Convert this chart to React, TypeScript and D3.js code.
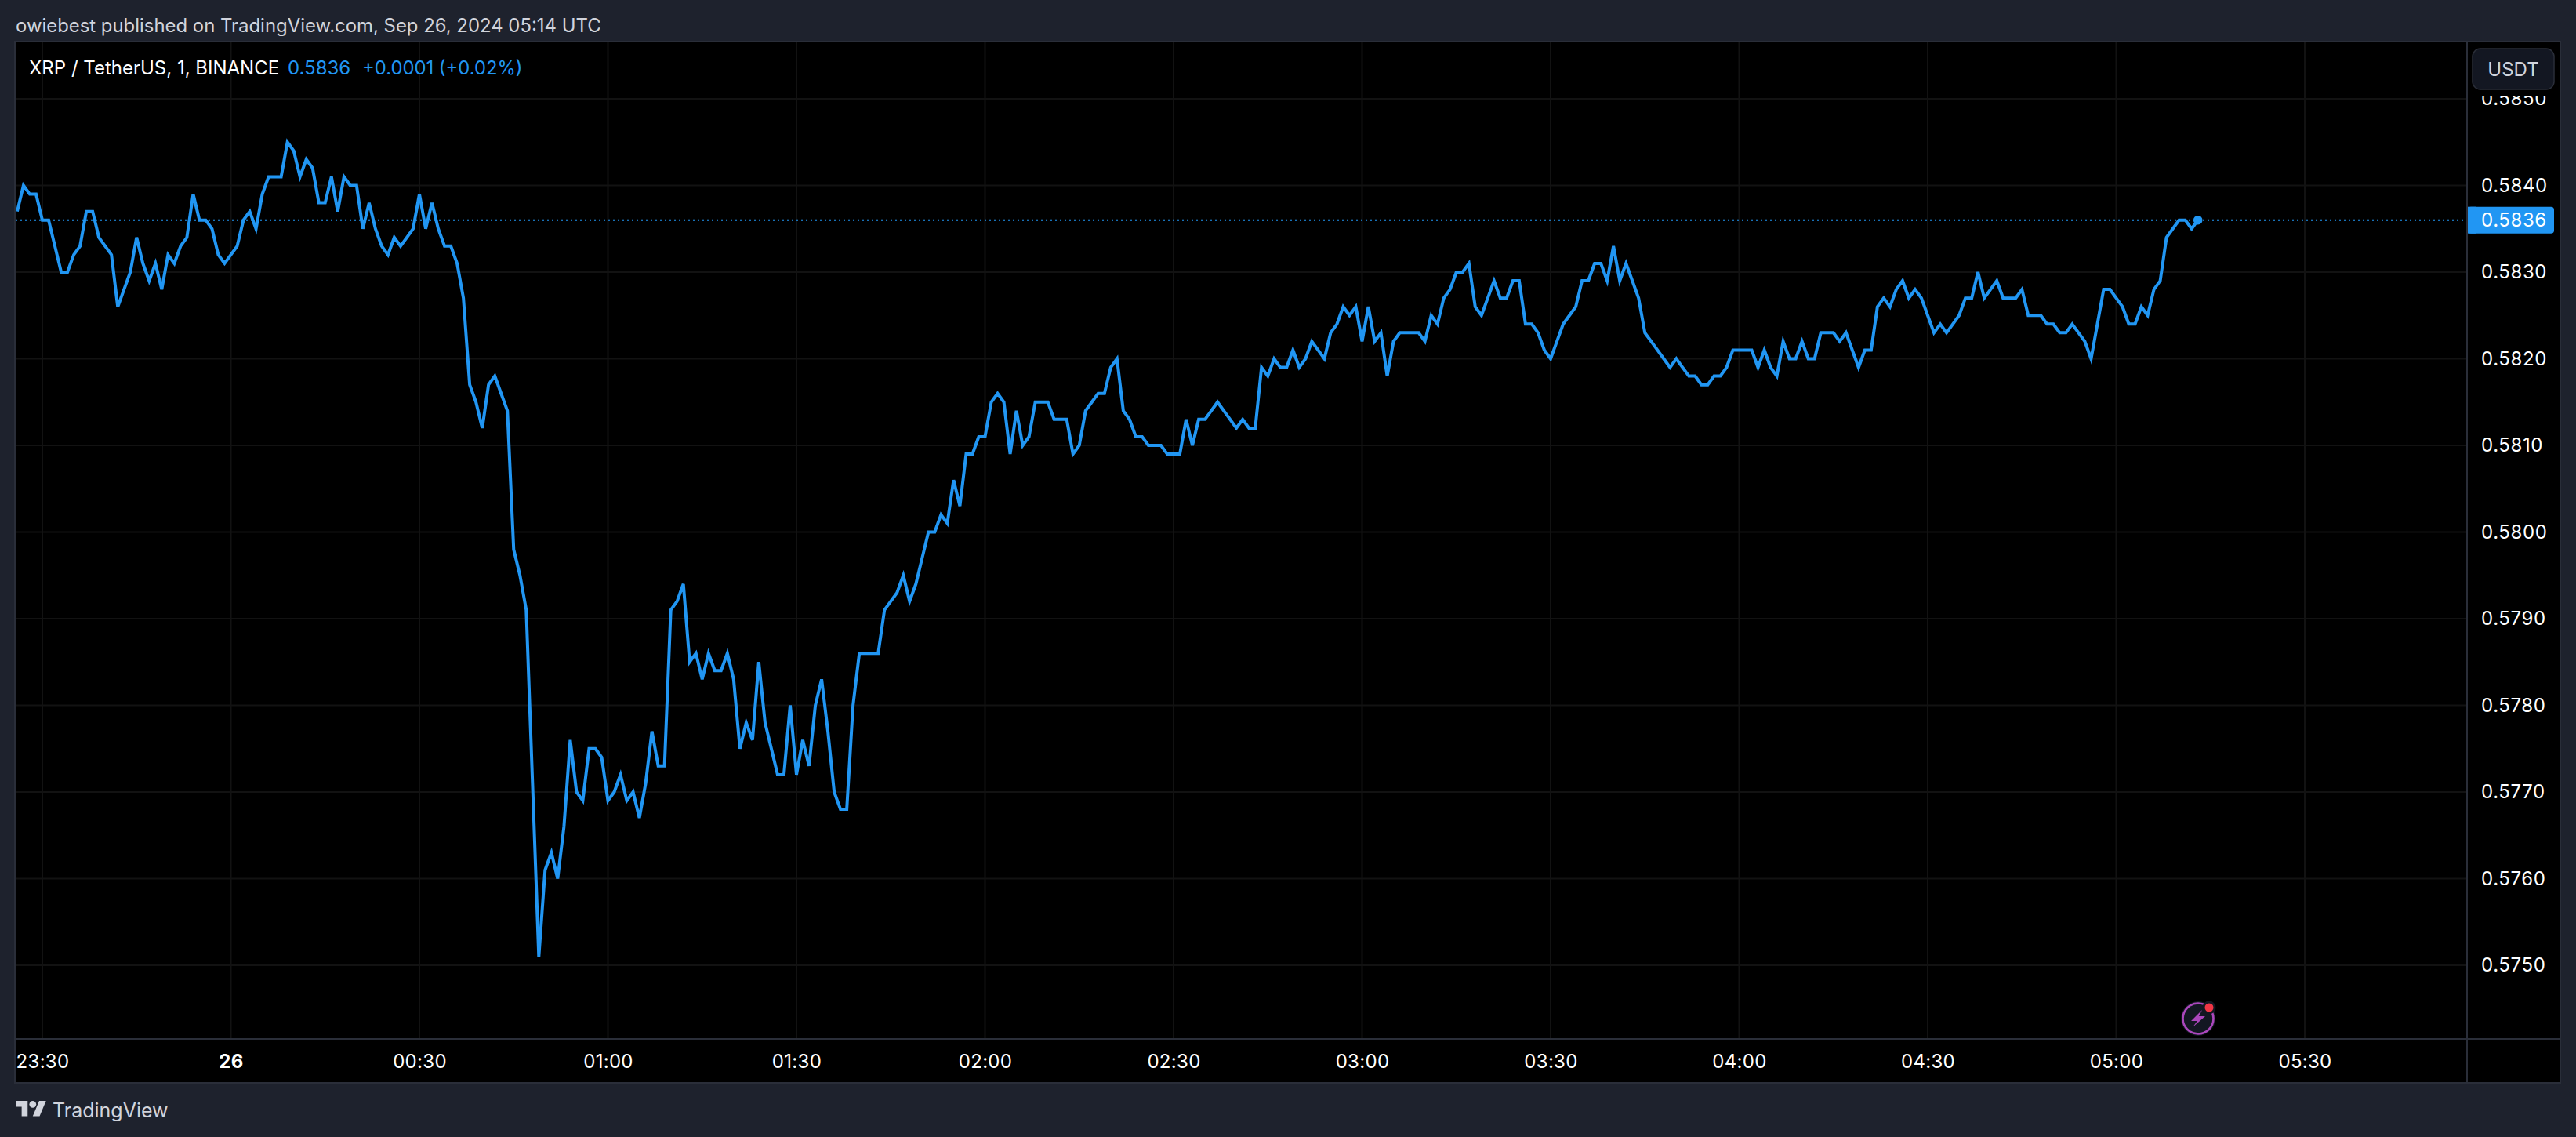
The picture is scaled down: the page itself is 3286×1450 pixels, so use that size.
import { useEffect, useRef } from 'react'
import * as d3 from 'd3'

// XRP/USDT 1 minute closes, from 23:26 on the 25th
const closes = [
  0.5837, 0.584, 0.5839, 0.5839, 0.5836, 0.5836, 0.5833, 0.583, 0.583, 0.5832, 0.5833, 0.5837, 0.5837, 0.5834, 0.5833,
  0.5832, 0.5826, 0.5828, 0.583, 0.5834, 0.5831, 0.5829, 0.5831, 0.5828, 0.5832, 0.5831, 0.5833, 0.5834, 0.5839, 0.5836,
  0.5836, 0.5835, 0.5832, 0.5831, 0.5832, 0.5833, 0.5836, 0.5837, 0.5835, 0.5839, 0.5841, 0.5841, 0.5841, 0.5845, 0.5844,
  0.5841, 0.5843, 0.5842, 0.5838, 0.5838, 0.5841, 0.5837, 0.5841, 0.584, 0.584, 0.5835, 0.5838, 0.5835, 0.5833, 0.5832,
  0.5834, 0.5833, 0.5834, 0.5835, 0.5839, 0.5835, 0.5838, 0.5835, 0.5833, 0.5833, 0.5831, 0.5827, 0.5817, 0.5815, 0.5812,
  0.5817, 0.5818, 0.5816, 0.5814, 0.5798, 0.5795, 0.5791, 0.5771, 0.5751, 0.5761, 0.5763, 0.576, 0.5766, 0.5776, 0.577,
  0.5769, 0.5775, 0.5775, 0.5774, 0.5769, 0.577, 0.5772, 0.5769, 0.577, 0.5767, 0.5771, 0.5777, 0.5773, 0.5773, 0.5791,
  0.5792, 0.5794, 0.5785, 0.5786, 0.5783, 0.5786, 0.5784, 0.5784, 0.5786, 0.5783, 0.5775, 0.5778, 0.5776, 0.5785, 0.5778,
  0.5775, 0.5772, 0.5772, 0.578, 0.5772, 0.5776, 0.5773, 0.578, 0.5783, 0.5777, 0.577, 0.5768, 0.5768, 0.578, 0.5786,
  0.5786, 0.5786, 0.5786, 0.5791, 0.5792, 0.5793, 0.5795, 0.5792, 0.5794, 0.5797, 0.58, 0.58, 0.5802, 0.5801, 0.5806,
  0.5803, 0.5809, 0.5809, 0.5811, 0.5811, 0.5815, 0.5816, 0.5815, 0.5809, 0.5814, 0.581, 0.5811, 0.5815, 0.5815, 0.5815,
  0.5813, 0.5813, 0.5813, 0.5809, 0.581, 0.5814, 0.5815, 0.5816, 0.5816, 0.5819, 0.582, 0.5814, 0.5813, 0.5811, 0.5811,
  0.581, 0.581, 0.581, 0.5809, 0.5809, 0.5809, 0.5813, 0.581, 0.5813, 0.5813, 0.5814, 0.5815, 0.5814, 0.5813, 0.5812,
  0.5813, 0.5812, 0.5812, 0.5819, 0.5818, 0.582, 0.5819, 0.5819, 0.5821, 0.5819, 0.582, 0.5822, 0.5821, 0.582, 0.5823,
  0.5824, 0.5826, 0.5825, 0.5826, 0.5822, 0.5826, 0.5822, 0.5823, 0.5818, 0.5822, 0.5823, 0.5823, 0.5823, 0.5823, 0.5822,
  0.5825, 0.5824, 0.5827, 0.5828, 0.583, 0.583, 0.5831, 0.5826, 0.5825, 0.5827, 0.5829, 0.5827, 0.5827, 0.5829, 0.5829,
  0.5824, 0.5824, 0.5823, 0.5821, 0.582, 0.5822, 0.5824, 0.5825, 0.5826, 0.5829, 0.5829, 0.5831, 0.5831, 0.5829, 0.5833,
  0.5829, 0.5831, 0.5829, 0.5827, 0.5823, 0.5822, 0.5821, 0.582, 0.5819, 0.582, 0.5819, 0.5818, 0.5818, 0.5817, 0.5817,
  0.5818, 0.5818, 0.5819, 0.5821, 0.5821, 0.5821, 0.5821, 0.5819, 0.5821, 0.5819, 0.5818, 0.5822, 0.582, 0.582, 0.5822,
  0.582, 0.582, 0.5823, 0.5823, 0.5823, 0.5822, 0.5823, 0.5821, 0.5819, 0.5821, 0.5821, 0.5826, 0.5827, 0.5826, 0.5828,
  0.5829, 0.5827, 0.5828, 0.5827, 0.5825, 0.5823, 0.5824, 0.5823, 0.5824, 0.5825, 0.5827, 0.5827, 0.583, 0.5827, 0.5828,
  0.5829, 0.5827, 0.5827, 0.5827, 0.5828, 0.5825, 0.5825, 0.5825, 0.5824, 0.5824, 0.5823, 0.5823, 0.5824, 0.5823, 0.5822,
  0.582, 0.5824, 0.5828, 0.5828, 0.5827, 0.5826, 0.5824, 0.5824, 0.5826, 0.5825, 0.5828, 0.5829, 0.5834, 0.5835, 0.5836,
  0.5836, 0.5835, 0.5836,
]

const priceTicks = [0.575, 0.576, 0.577, 0.578, 0.579, 0.58, 0.581, 0.582, 0.583, 0.584, 0.585]
const timeLabels = ['23:30', '26', '00:30', '01:00', '01:30', '02:00', '02:30', '03:00', '03:30', '04:00', '04:30', '05:00', '05:30']
const firstBar = Date.UTC(2024, 8, 25, 23, 26)
const firstTick = new Date(Date.UTC(2024, 8, 25, 23, 30))
const lastTick = new Date(Date.UTC(2024, 8, 26, 5, 30))
const lastPrice = closes[closes.length - 1]

const width = 3286
const height = 1450
const plot = { left: 20, right: 3147, top: 54, bottom: 1325, outerRight: 3265, outerBottom: 1380 }

const sans = 'Inter, "Liberation Sans", sans-serif'
const blue = '#2196f3'
const panel = '#1e222d'
const border = '#2a2e39'
const grid = '#121212'

const App = () => {
  const ref = useRef<SVGSVGElement | null>(null)

  useEffect(() => {
    const svg = d3.select(ref.current)
    svg.selectAll('*').remove()

    const x = d3.scaleUtc().domain([firstTick, lastTick]).range([54, 2940])
    const y = d3.scaleLinear().domain([0.575, 0.585]).range([1231, 126])
    const timeTicks = d3.utcMinute.every(30)!.range(firstTick, new Date(+lastTick + 1))

    svg.append('rect').attr('width', width).attr('height', height).attr('fill', panel)
    svg.append('rect')
      .attr('x', plot.left - 1).attr('y', plot.top - 1)
      .attr('width', plot.outerRight - plot.left + 2).attr('height', plot.outerBottom - plot.top + 2)
      .attr('fill', '#000').attr('stroke', border).attr('stroke-width', 2)

    // grid
    svg.append('g').selectAll('line').data(priceTicks).join('line')
      .attr('x1', plot.left).attr('x2', plot.right)
      .attr('y1', d => y(d)).attr('y2', d => y(d))
      .attr('stroke', grid).attr('stroke-width', 2)
    svg.append('g').selectAll('line').data(timeTicks).join('line')
      .attr('x1', d => x(d)).attr('x2', d => x(d))
      .attr('y1', plot.top).attr('y2', plot.bottom)
      .attr('stroke', grid).attr('stroke-width', 2)

    // axis rules
    svg.append('line').attr('x1', plot.right).attr('x2', plot.right).attr('y1', plot.top).attr('y2', plot.outerBottom)
      .attr('stroke', border).attr('stroke-width', 2)
    svg.append('line').attr('x1', plot.left).attr('x2', plot.outerRight).attr('y1', plot.bottom).attr('y2', plot.bottom)
      .attr('stroke', border).attr('stroke-width', 2)

    // last price line
    svg.append('line')
      .attr('x1', plot.left).attr('x2', 3142)
      .attr('y1', y(lastPrice)).attr('y2', y(lastPrice))
      .attr('stroke', blue).attr('stroke-width', 2).attr('stroke-dasharray', '2 4')

    const line = d3.line<number>()
      .x((_, i) => x(new Date(firstBar + i * 60000)))
      .y(d => y(d))
    svg.append('path').datum(closes)
      .attr('d', line)
      .attr('fill', 'none').attr('stroke', blue).attr('stroke-width', 4).attr('stroke-linejoin', 'miter')
    svg.append('circle')
      .attr('cx', x(new Date(firstBar + (closes.length - 1) * 60000))).attr('cy', y(lastPrice))
      .attr('r', 5.8).attr('fill', blue)

    // price axis
    const yAxis = svg.append('g').attr('transform', `translate(${plot.right}, 0)`)
      .call(d3.axisRight(y).tickValues(priceTicks).tickFormat(d3.format('.4f')).tickSize(0).tickPadding(18))
    yAxis.select('.domain').remove()
    yAxis.selectAll('text')
      .attr('fill', '#fff').attr('font-family', sans).attr('font-size', 24).attr('letter-spacing', 0.6)

    // time axis
    const xAxis = svg.append('g').attr('transform', `translate(0, ${plot.bottom})`)
      .call(d3.axisBottom(x).tickValues(timeTicks).tickFormat((_, i) => timeLabels[i]).tickSize(0))
    xAxis.select('.domain').remove()
    xAxis.selectAll('text')
      .attr('y', 28).attr('dy', '0.36em')
      .attr('fill', '#fff').attr('font-family', sans).attr('font-size', 24).attr('letter-spacing', 0.3)
      .attr('font-weight', (_, i) => (timeLabels[i] === '26' ? 700 : 400))

    // currency button hides the top of 0.5850
    svg.append('rect').attr('x', plot.right + 1).attr('y', plot.top).attr('width', plot.outerRight - plot.right - 1).attr('height', 68).attr('fill', '#000')
    svg.append('rect').attr('x', 3154).attr('y', 62).attr('width', 104).attr('height', 52).attr('rx', 10)
      .attr('fill', '#131722').attr('stroke', border).attr('stroke-width', 1.5)
    svg.append('text').attr('x', 3206).attr('y', 88).attr('dy', '0.36em').attr('text-anchor', 'middle')
      .attr('fill', '#d1d4dc').attr('font-family', sans).attr('font-size', 24).text('USDT')

    // last price tag
    svg.append('rect').attr('x', 3148).attr('y', y(lastPrice) - 17).attr('width', 110).attr('height', 34).attr('rx', 4).attr('fill', blue)
    svg.append('rect').attr('x', 3148).attr('y', y(lastPrice) - 17).attr('width', 10).attr('height', 34).attr('fill', blue)
    svg.append('text').attr('x', plot.right + 18).attr('y', y(lastPrice)).attr('dy', '0.36em')
      .attr('fill', '#fff').attr('font-family', sans).attr('font-size', 24).attr('letter-spacing', 0.6)
      .text(d3.format('.4f')(lastPrice))

    // header, legend, footer
    svg.append('text').attr('x', 20).attr('y', 41)
      .attr('fill', '#d1d4dc').attr('font-family', sans).attr('font-size', 23.9)
      .text('owiebest published on TradingView.com, Sep 26, 2024 05:14 UTC')
    svg.append('text').attr('x', 37).attr('y', 95)
      .attr('fill', '#fff').attr('font-family', sans).attr('font-size', 24)
      .text('XRP / TetherUS, 1, BINANCE')
    svg.append('text').attr('x', 367).attr('y', 95)
      .attr('fill', blue).attr('font-family', sans).attr('font-size', 24)
      .text('0.5836')
    svg.append('text').attr('x', 462).attr('y', 95)
      .attr('fill', blue).attr('font-family', sans).attr('font-size', 23.8)
      .text('+0.0001 (+0.02%)')

    const logo = svg.append('g').attr('transform', 'translate(20, 1399.6) scale(1.09)').attr('fill', '#d1d4dc')
    logo.append('path').attr('d', 'M14 22H7V11H0V4h14v18zM28 22h-8l7.5-18h8L28 22z')
    logo.append('circle').attr('cx', 20).attr('cy', 8).attr('r', 4)
    svg.append('text').attr('x', 67).attr('y', 1425)
      .attr('fill', '#d1d4dc').attr('font-family', sans).attr('font-size', 25)
      .text('TradingView')

    // lightning badge
    const badge = svg.append('g').attr('transform', 'translate(2804, 1299)')
    badge.append('circle').attr('r', 22).attr('fill', '#131722')
    badge.append('circle').attr('r', 19.5).attr('fill', 'none').attr('stroke', '#ab47bc').attr('stroke-width', 2.6)
    badge.append('path').attr('d', 'M5 -11 L-9 3 L-1 3 L-7 11 L9 -3 L1 -3 Z').attr('fill', '#ab47bc')
    badge.append('circle').attr('cx', 14).attr('cy', -14).attr('r', 8.5).attr('fill', '#131722')
    badge.append('circle').attr('cx', 14).attr('cy', -14).attr('r', 5.5).attr('fill', '#f23645')
  }, [])

  return <svg ref={ref} width={width} height={height} style={{ position: 'absolute', left: 0, top: 0, display: 'block' }} />
}

export default App
